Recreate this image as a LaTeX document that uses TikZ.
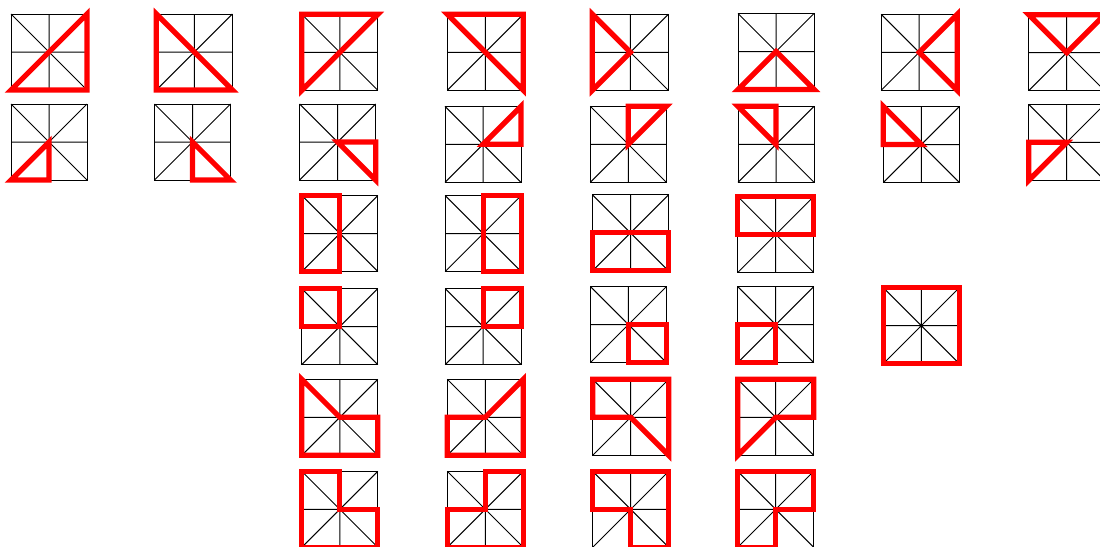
\documentclass[tikz,border=0pt]{standalone}
\tikzset{
  gridline/.style={black,line width=1pt},
  hilite/.style={red,line width=5.3pt,miter limit=10,line join=miter},
}
\newcommand{\cellfig}[3]{%
  \begin{scope}[shift={(#1pt,-#2pt)},x=38pt,y=-38pt]
    \draw[gridline] (0,0) rectangle (2,2);
    \draw[gridline] (1,0) -- (1,2) (0,1) -- (2,1) (0,0) -- (2,2) (2,0) -- (0,2);
    \draw[hilite] #3 -- cycle;
  \end{scope}}
\begin{document}
\begin{tikzpicture}[x=1pt,y=-1pt]
\useasboundingbox (0,0) rectangle (1100,546);
\clip (0,0) rectangle (1100,546);
% row 1
\cellfig{11}{14}{(0,2) -- (2,0) -- (2,2)}
\cellfig{156.3}{14}{(0,0) -- (2,2) -- (0,2)}
\cellfig{301.8}{14.3}{(0,0) -- (2,0) -- (0,2)}
\cellfig{447.3}{14.3}{(0,0) -- (2,0) -- (2,2)}
\cellfig{592.3}{14.3}{(0,0) -- (1,1) -- (0,2)}
\cellfig{738}{13.5}{(0,2) -- (1,1) -- (2,2)}
\cellfig{881.2}{14.3}{(2,0) -- (1,1) -- (2,2)}
\cellfig{1028.7}{14.7}{(0,0) -- (2,0) -- (1,1)}
% row 2
\cellfig{11}{104}{(0,2) -- (1,1) -- (1,2)}
\cellfig{154.5}{104}{(1,1) -- (2,2) -- (1,2)}
\cellfig{299.7}{104}{(1,1) -- (2,1) -- (2,2)}
\cellfig{445}{106.3}{(1,1) -- (2,0) -- (2,1)}
\cellfig{590.3}{106.3}{(1,0) -- (2,0) -- (1,1)}
\cellfig{738}{106.3}{(0,0) -- (1,0) -- (1,1)}
\cellfig{883.3}{106.5}{(0,0) -- (1,1) -- (0,1)}
\cellfig{1028.7}{104.3}{(0,1) -- (1,1) -- (0,2)}
% row 3
\cellfig{301.8}{195.5}{(0,0) -- (1,0) -- (1,2) -- (0,2)}
\cellfig{445.2}{195.5}{(1,0) -- (2,0) -- (2,2) -- (1,2)}
\cellfig{592.5}{194.8}{(0,1) -- (2,1) -- (2,2) -- (0,2)}
\cellfig{737.7}{196.5}{(0,0) -- (2,0) -- (2,1) -- (0,1)}
% row 4
\cellfig{301.8}{288.6}{(0,0) -- (1,0) -- (1,1) -- (0,1)}
\cellfig{445.2}{288.6}{(1,0) -- (2,0) -- (2,1) -- (1,1)}
\cellfig{590.4}{286.6}{(1,1) -- (2,1) -- (2,2) -- (1,2)}
\cellfig{737.7}{286.6}{(0,1) -- (1,1) -- (1,2) -- (0,2)}
\cellfig{883.3}{287.7}{(0,0) -- (2,0) -- (2,2) -- (0,2)}
% row 5
\cellfig{301.8}{379.3}{(0,0) -- (1,1) -- (2,1) -- (2,2) -- (0,2)}
\cellfig{447.3}{379.3}{(2,0) -- (1,1) -- (0,1) -- (0,2) -- (2,2)}
\cellfig{592.7}{379.3}{(0,0) -- (2,0) -- (2,2) -- (1,1) -- (0,1)}
\cellfig{737.7}{379.3}{(0,0) -- (2,0) -- (2,1) -- (1,1) -- (0,2)}
% row 6
\cellfig{301.8}{471.3}{(0,0) -- (1,0) -- (1,1) -- (2,1) -- (2,2) -- (0,2)}
\cellfig{447.3}{471.3}{(1,0) -- (2,0) -- (2,2) -- (0,2) -- (0,1) -- (1,1)}
\cellfig{592.7}{471.3}{(0,0) -- (2,0) -- (2,2) -- (1,2) -- (1,1) -- (0,1)}
\cellfig{737.7}{471.3}{(0,0) -- (2,0) -- (2,1) -- (1,1) -- (1,2) -- (0,2)}
\end{tikzpicture}
\end{document}
